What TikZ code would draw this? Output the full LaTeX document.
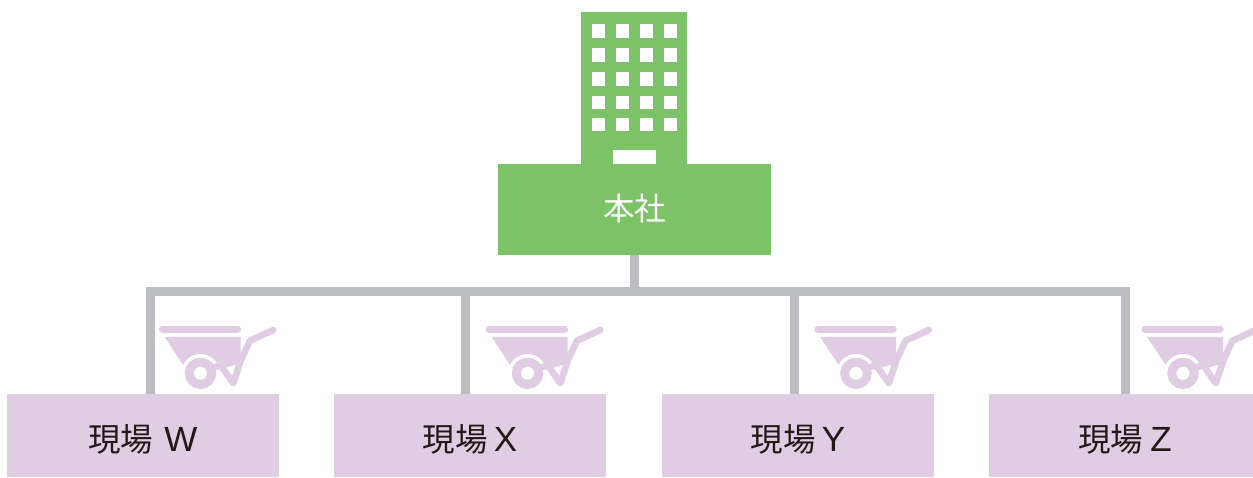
\documentclass[tikz,border=0pt]{standalone}
\usepackage{fontspec}
\setmainfont{Noto Sans CJK JP}
\newfontfamily\latinpart{Liberation Sans}
\newcommand{\sitelabel}[2]{現場\hspace{#1pt}{\latinpart\fontsize{35}{35}\selectfont #2}}
\definecolor{hqgreen}{HTML}{7BC366}
\definecolor{sitepurple}{HTML}{E0CCE3}
\definecolor{linegray}{HTML}{BCBDC1}
\definecolor{inkdark}{HTML}{231815}
\tikzset{
  x=1pt,y=-1pt,
  hqbox/.style={fill=hqgreen,draw=none,text=white,minimum width=273pt,minimum height=91pt,inner sep=0pt,text height=21pt,text depth=0pt,font=\fontsize{31.5}{31.5}\selectfont},
  sitebox/.style={fill=sitepurple,draw=none,text=inkdark,minimum width=272pt,minimum height=83pt,inner sep=0pt,text height=31pt,text depth=0pt,font=\fontsize{32.5}{32.5}\selectfont},
  bus/.style={draw=linegray,line width=9pt},
  barrowline/.style={draw=sitepurple,line width=6.6pt,line cap=round,line join=round},
  pics/barrow/.style={code={
    \draw[draw=sitepurple,line width=7.4pt,line cap=round] (162.5,329.3) -- (237.6,329.3);
    \fill[sitepurple] (164.5,336.8) -- (240.5,336.8) -- (240.5,357) -- (213,364) -- (200,372) -- (183.5,365.5) -- cycle;
    \fill[white] (200.5,373.3) circle[radius=19.3];
    \path[barrowline] (273.3,330) -- (250,340.7) -- (241,360) -- (213.3,367.5);
    \path[barrowline] (241,360) -- (233.3,383.3) -- (222,367);
    \draw[draw=sitepurple,line width=9pt] (200.5,373.3) circle[radius=11.2];
  }}
}
\begin{document}
\begin{tikzpicture}
\useasboundingbox (0,0) rectangle (1253,477);
% building
\fill[hqgreen] (581.2,12.2) rectangle (687.2,165);
\foreach \wx in {592,616,640,664}
  \foreach \wy in {24.3,48.3,72.3,95.5,118}
    \fill[white] (\wx,\wy) rectangle ++(13.3,13.3);
\fill[white] (613.3,150) rectangle (655.7,164);
% connectors
\node[hqbox] (hq) at (634.5,209.5) {本社};
\node[sitebox] (w) at (143,435.5) {\sitelabel{11}{W}};
\node[sitebox] (x) at (470,435.5) {\sitelabel{6}{X}};
\node[sitebox] (y) at (798,435.5) {\sitelabel{6}{Y}};
\node[sitebox] (z) at (1125,435.5) {\sitelabel{7}{Z}};
\coordinate (busW) at (150,291.7);
\coordinate (busX) at (465.5,291.7);
\coordinate (busY) at (794.5,291.7);
\coordinate (busZ) at (1125,291.7);
\draw[bus] (hq.south) -- (hq.south |- busW);
\draw[bus,line join=miter] (w.north -| busW) -- (busW) -- (busZ) -- (z.north);
\draw[bus] (busX) -- (busX |- x.north);
\draw[bus] (busY) -- (busY |- y.north);
% barrows
\pic at (0,0) {barrow};
\pic at (327,0) {barrow};
\pic at (655.5,0) {barrow};
\pic at (982.5,0) {barrow};
\end{tikzpicture}
\end{document}
